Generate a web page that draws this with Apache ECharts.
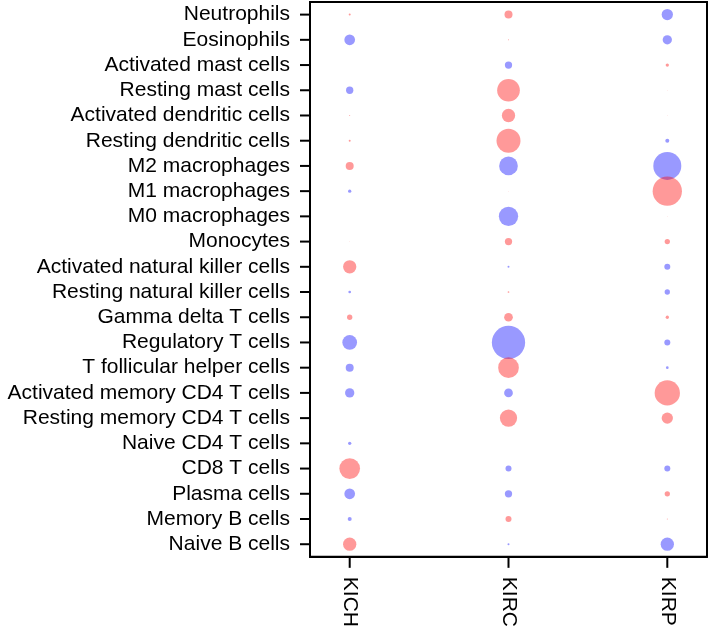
<!DOCTYPE html>
<html>
<head>
<meta charset="utf-8">
<script src="https://cdn.jsdelivr.net/npm/echarts@6/dist/echarts.min.js"></script>
<style>
html,body{margin:0;padding:0;background:#fff;}
#chart{width:709px;height:630px;}
</style>
</head>
<body>
<div id="chart"></div>
<script>
// Cell types, top to bottom as shown
const cellTypes = [
  "Neutrophils","Eosinophils","Activated mast cells","Resting mast cells",
  "Activated dendritic cells","Resting dendritic cells","M2 macrophages","M1 macrophages",
  "M0 macrophages","Monocytes","Activated natural killer cells","Resting natural killer cells",
  "Gamma delta T cells","Regulatory T cells","T follicular helper cells",
  "Activated memory CD4 T cells","Resting memory CD4 T cells","Naive CD4 T cells",
  "CD8 T cells","Plasma cells","Memory B cells","Naive B cells"
];
const cancers = ["KICH","KIRC","KIRP"];
// Signed effect values (positive = red, negative = blue); magnitude drives bubble size
const KICH = [2, -10.7, 0, -7.3, 1, 2, 8, -3.3, 0, 0.5, 13.3, -2.7, 5.3, -14.7, -8, -9.3, 0, -3.3, 20.7, -10.7, -4, 13.3];
const KIRC = [8, 1, -7.3, 22.7, 13.3, 24, -18.7, 0.5, -19.3, 7.3, -2, 1.7, 8.7, -33.3, 20.7, -8.7, 17.3, 0, -6, -7.3, 6, -2];
const KIRP = [-11.3, -9.3, 3.3, 0.5, 0.5, -4, -28, 29.3, 0.5, 5.3, -6, -5.3, 3.3, -6, -2.7, 25.3, 11.3, 0, -6, 5.3, 1, -13.3];

const columns = [KICH, KIRC, KIRP];
const n = cellTypes.length;
// x categories with spacer slots between cancers
const xCats = [];
cancers.forEach((c, i) => { if (i > 0) xCats.push(''); xCats.push(c); });
const yCats = cellTypes.slice().reverse();

const data = [];
columns.forEach((col, ci) => {
  col.forEach((v, ri) => {
    data.push([ci * 2, n - 1 - ri, v]);
  });
});

// tick anchor data (category indices), drawn via axis scales
const yTickData = yCats.map((_, i) => [0, i, 'y']);
const xTickData = cancers.map((_, i) => [i * 2, 0, 'x']);

const chart = echarts.init(document.getElementById('chart'));
const font = "Liberation Sans, Arial, sans-serif";
chart.setOption({
  animation: false,
  grid: { left: 310, right: 2, top: 2, bottom: 72, show: true, borderColor: '#000', borderWidth: 2 },
  xAxis: {
    type: 'category', data: xCats, boundaryGap: true,
    splitLine: { show: false },
    axisLine: { show: true, lineStyle: { color: '#000', width: 2 } },
    axisTick: { show: false },
    axisLabel: {
      interval: 0, rotate: -90, margin: 20,
      fontSize: 21, color: '#000', fontFamily: font
    }
  },
  yAxis: {
    type: 'category', data: yCats, boundaryGap: true,
    splitLine: { show: false },
    axisLine: { show: true, lineStyle: { color: '#000', width: 2 } },
    axisTick: { show: false },
    axisLabel: {
      interval: 0, margin: 20,
      fontSize: 21, color: '#000', fontFamily: font
    }
  },
  series: [{
    type: 'scatter',
    data: data,
    symbolSize: d => Math.abs(d[2]),
    itemStyle: {
      color: p => p.value[2] >= 0 ? 'rgba(255,0,0,0.5)' : 'rgba(0,0,255,0.5)'
    }
  }, {
    type: 'custom',
    clip: false,
    silent: true,
    z: 10,
    data: yTickData.concat(xTickData),
    renderItem: (params, api) => {
      const cs = params.coordSys;
      const p = api.coord([api.value(0), api.value(1)]);
      const kind = yTickData.length > params.dataIndex ? 'y' : 'x';
      let shape;
      if (kind === 'y') {
        shape = { x1: cs.x - 10, y1: p[1], x2: cs.x, y2: p[1] };
      } else {
        const b = cs.y + cs.height;
        shape = { x1: p[0], y1: b, x2: p[0], y2: b + 11 };
      }
      return { type: 'line', shape: shape, style: { stroke: '#000', lineWidth: 2 } };
    }
  }]
});
</script>
</body>
</html>
